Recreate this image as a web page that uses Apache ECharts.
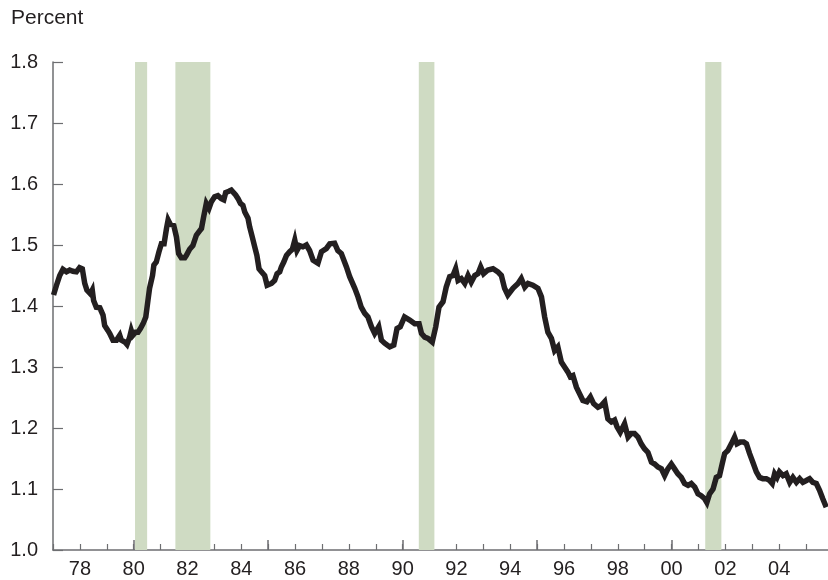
<!DOCTYPE html>
<html>
<head>
<meta charset="utf-8">
<script src="https://cdn.jsdelivr.net/npm/echarts@6/dist/echarts.min.js"></script>
<style>
html,body{margin:0;padding:0;background:#fff;}
#chart{width:828px;height:580px;}
</style>
</head>
<body>
<div id="chart"></div>
<script>
// Decimal years of each reading
const years = [
1977.02,1977.13,1977.25,1977.37,1977.50,1977.62,1977.74,1977.87,1977.99,1978.09,
1978.18,1978.26,1978.39,1978.46,1978.51,1978.61,1978.74,1978.80,1978.86,1978.92,
1979.04,1979.11,1979.17,1979.23,1979.36,1979.42,1979.48,1979.54,1979.67,1979.75,
1979.85,1979.91,1979.97,1980.07,1980.16,1980.25,1980.35,1980.45,1980.53,1980.59,
1980.70,1980.75,1980.84,1980.94,1981.03,1981.13,1981.22,1981.28,1981.36,1981.49,
1981.59,1981.67,1981.77,1981.90,1981.96,1982.08,1982.20,1982.27,1982.33,1982.43,
1982.52,1982.60,1982.70,1982.80,1982.89,1983.01,1983.13,1983.26,1983.35,1983.42,
1983.54,1983.63,1983.69,1983.79,1983.88,1983.97,1984.06,1984.13,1984.25,1984.31,
1984.41,1984.50,1984.58,1984.66,1984.75,1984.87,1984.96,1985.03,1985.12,1985.24,
1985.33,1985.43,1985.49,1985.58,1985.68,1985.80,1985.90,1985.99,1986.07,1986.17,
1986.29,1986.42,1986.54,1986.67,1986.85,1986.98,1987.16,1987.29,1987.47,1987.59,
1987.72,1987.91,1988.03,1988.22,1988.34,1988.46,1988.59,1988.71,1988.84,1988.96,
1989.11,1989.21,1989.33,1989.52,1989.67,1989.79,1989.91,1990.07,1990.26,1990.45,
1990.61,1990.70,1990.82,1990.94,1991.10,1991.23,1991.35,1991.50,1991.62,1991.75,
1991.87,1991.97,1992.06,1992.18,1992.31,1992.43,1992.55,1992.68,1992.80,1992.90,
1993.01,1993.17,1993.36,1993.54,1993.67,1993.79,1993.91,1994.10,1994.29,1994.41,
1994.54,1994.66,1994.84,1995.03,1995.16,1995.28,1995.40,1995.53,1995.65,1995.77,
1995.90,1996.02,1996.14,1996.23,1996.33,1996.46,1996.58,1996.70,1996.85,1996.98,
1997.10,1997.26,1997.39,1997.51,1997.63,1997.76,1997.88,1997.97,1998.09,1998.25,
1998.38,1998.50,1998.62,1998.75,1998.87,1998.99,1999.12,1999.25,1999.37,1999.49,
1999.62,1999.74,1999.86,1999.99,2000.11,2000.23,2000.36,2000.48,2000.61,2000.73,
2000.86,2000.98,2001.10,2001.23,2001.31,2001.41,2001.54,2001.66,2001.78,2001.88,
2001.97,2002.09,2002.22,2002.34,2002.43,2002.55,2002.68,2002.78,2002.90,2003.02,
2003.15,2003.27,2003.39,2003.52,2003.64,2003.74,2003.83,2003.92,2004.01,2004.14,
2004.26,2004.39,2004.51,2004.64,2004.76,2004.88,2005.01,2005.13,2005.25,2005.38,
2005.50,2005.62,2005.75
];
// Percent values
const values = [
1.418,1.434,1.450,1.460,1.456,1.459,1.457,1.456,1.463,1.461,
1.437,1.426,1.420,1.426,1.409,1.398,1.397,1.400,1.385,1.368,
1.360,1.355,1.357,1.344,1.344,1.347,1.352,1.344,1.341,1.337,
1.349,1.360,1.352,1.357,1.357,1.363,1.371,1.382,1.409,1.429,
1.450,1.467,1.472,1.489,1.502,1.502,1.527,1.541,1.534,1.532,
1.513,1.486,1.479,1.479,1.483,1.493,1.499,1.502,1.516,1.522,
1.527,1.546,1.568,1.560,1.571,1.579,1.581,1.576,1.574,1.586,
1.588,1.590,1.593,1.582,1.576,1.568,1.565,1.554,1.544,1.530,
1.513,1.497,1.483,1.461,1.456,1.450,1.434,1.431,1.437,1.442,
1.453,1.456,1.464,1.472,1.483,1.489,1.493,1.508,1.491,1.499,
1.497,1.500,1.491,1.475,1.470,1.489,1.494,1.502,1.503,1.491,
1.486,1.464,1.448,1.429,1.415,1.398,1.388,1.382,1.366,1.355,
1.366,1.344,1.339,1.333,1.336,1.363,1.366,1.382,1.377,1.371,
1.371,1.355,1.349,1.347,1.341,1.366,1.398,1.407,1.431,1.448,
1.450,1.461,1.442,1.445,1.437,1.450,1.439,1.450,1.453,1.464,
1.453,1.459,1.461,1.456,1.450,1.429,1.418,1.429,1.437,1.445,
1.431,1.437,1.434,1.429,1.415,1.382,1.357,1.347,1.327,1.333,
1.308,1.300,1.292,1.284,1.286,1.267,1.256,1.245,1.243,1.251,
1.240,1.234,1.237,1.243,1.215,1.210,1.213,1.202,1.193,1.207,
1.185,1.191,1.191,1.185,1.174,1.166,1.160,1.144,1.141,1.136,
1.133,1.122,1.133,1.141,1.133,1.125,1.119,1.109,1.106,1.109,
1.103,1.092,1.089,1.084,1.078,1.092,1.100,1.119,1.122,1.141,
1.158,1.163,1.174,1.185,1.174,1.177,1.177,1.174,1.158,1.144,
1.128,1.119,1.117,1.117,1.114,1.109,1.125,1.119,1.128,1.122,
1.125,1.111,1.119,1.111,1.117,1.111,1.114,1.117,1.111,1.109,
1.098,1.084,1.070
];
// Recession shading periods
const recessionStart = [1980.05, 1981.55, 1990.60, 2001.25];
const recessionEnd   = [1980.50, 1982.85, 1991.18, 2001.85];
// Tick labels
const labelYears = [1978,1980,1982,1984,1986,1988,1990,1992,1994,1996,1998,2000,2002,2004];
const labelTexts = ['78','80','82','84','86','88','90','92','94','96','98','00','02','04'];
const majorTickYears = [1980,1985,1990,1995,2000];
const yearCategories = [];
for (let y = 1977; y <= 2006; y++) yearCategories.push(String(y));

const FONT = 'Liberation Sans, Arial, Helvetica, sans-serif';
const TXT = '#231f20';
const AXIS = '#6d6e71';

const chart = echarts.init(document.getElementById('chart'), null, {renderer: 'canvas'});
const option = {
  animation: false,
  backgroundColor: '#ffffff',
  textStyle: {fontFamily: FONT},
  graphic: [{
    type: 'text', left: 11, top: 8,
    style: {text: 'Percent', font: '21px ' + FONT, fill: TXT}
  }],
  grid: {left: 53, top: 62, width: 780, height: 488, containLabel: false, outerBoundsMode: 'none'},
  xAxis: [{
    type: 'value', min: 1977, max: 2006, interval: 1,
    axisLine: {show: true, lineStyle: {color: AXIS, width: 1.5}},
    axisTick: {show: true, inside: true, length: 6, lineStyle: {color: AXIS, width: 1.2}},
    axisLabel: {
      show: true, margin: 9, color: TXT, fontSize: 20, fontFamily: FONT,
      formatter: function (v) {
        const i = labelYears.indexOf(Math.round(v));
        return (i >= 0 && Math.abs(v - labelYears[i]) < 1e-6) ? labelTexts[i] : '';
      }
    },
    splitLine: {show: false}
  }, {
    type: 'category', data: yearCategories, boundaryGap: false, position: 'bottom',
    axisLine: {show: false},
    axisLabel: {show: false},
    axisTick: {
      show: true, inside: true, length: 10, lineStyle: {color: AXIS, width: 1.5},
      interval: function (idx, val) { return majorTickYears.indexOf(+val) >= 0; }
    },
    splitLine: {show: false}
  }],
  yAxis: {
    type: 'value', min: 1.0, max: 1.8, interval: 0.1,
    axisLine: {show: true, lineStyle: {color: AXIS, width: 1.5}},
    axisTick: {show: true, inside: true, length: 10, lineStyle: {color: AXIS, width: 1.2}},
    axisLabel: {
      margin: 15, color: TXT, fontSize: 20, fontFamily: FONT,
      formatter: function (v) { return v.toFixed(1); }
    },
    splitLine: {show: false}
  },
  series: [{
    type: 'line', data: [], z: 1, silent: true,
    markArea: {
      silent: true,
      itemStyle: {color: '#cfdbc3', opacity: 1},
      data: recessionStart.map(function (s, i) { return [{xAxis: s}, {xAxis: recessionEnd[i]}]; })
    }
  }, {
    type: 'line', z: 3,
    data: years.map(function (y, i) { return [y, values[i]]; }),
    showSymbol: false, symbol: 'none',
    lineStyle: {color: '#231f20', width: 5.5, join: 'miter'},
    clip: true
  }]
};
chart.setOption(option);
</script>
</body>
</html>
